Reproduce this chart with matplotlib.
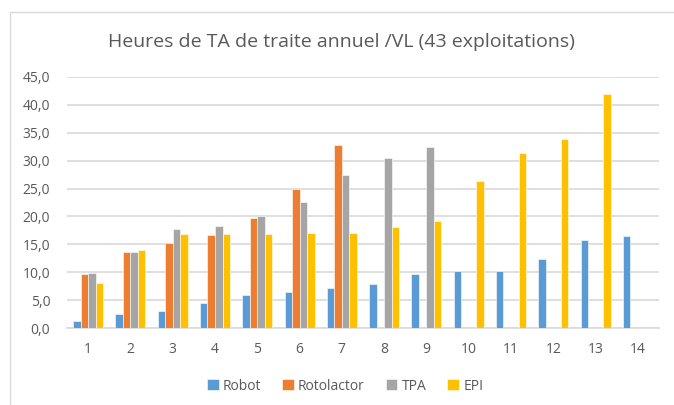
import numpy as np
import matplotlib
matplotlib.use("Agg")
import matplotlib.pyplot as plt
from matplotlib.patches import Rectangle

categories = [str(i) for i in range(1, 15)]
nan = np.nan
robot = [1.2, 2.5, 3.0, 4.4, 6.0, 6.5, 7.2, 7.8, 9.6, 10.3, 10.3, 12.3, 15.7, 16.5]
rotolactor = [9.7, 13.7, 15.2, 16.7, 19.7, 25.0, 32.8, nan, nan, nan, nan, nan, nan, nan]
tpa = [9.8, 13.7, 17.7, 18.2, 20.1, 22.6, 27.4, 30.4, 32.5, nan, nan, nan, nan, nan]
epi = [8.1, 14.0, 16.8, 16.8, 16.8, 17.0, 17.1, 18.1, 19.2, 26.4, 31.3, 33.9, 41.9, nan]
series = [("Robot", robot, "#5B9BD5"), ("Rotolactor", rotolactor, "#ED7D31"),
          ("TPA", tpa, "#A5A5A5"), ("EPI", epi, "#FFC000")]
yticks = np.arange(0, 46, 5)
title = "Heures de TA de traite annuel /VL (43 exploitations)"

plt.rcParams['font.family'] = ['Open Sans', 'DejaVu Sans']
txt = "#595959"

W, H = 674, 405
fig = plt.figure(figsize=(W / 100, H / 100), dpi=100)
# chart border (left and top visible)
fig.patches.append(Rectangle((10 / W, -0.1), 1.2, (H - 12) / H + 0.1, transform=fig.transFigure,
                             fill=False, edgecolor="#D9D9D9", linewidth=1.0))

ax = fig.add_axes([67 / W, 1 - 328 / H, (659 - 67) / W, (328 - 77) / H])
x = np.arange(len(categories))
bw = 0.178
for i, (name, vals, col) in enumerate(series):
    ax.bar(x + (i - 1.5) * bw, vals, width=bw, color=col, edgecolor="white",
           linewidth=0.4, label=name, zorder=3)

ax.set_xlim(-0.5, len(categories) - 0.5)
ax.set_ylim(0, 45)
ax.set_yticks(yticks)
ax.set_yticklabels([f"{v:.1f}".replace(".", ",") for v in yticks], color=txt, fontsize=10)
ax.set_xticks(x)
ax.set_xticklabels(categories, color=txt, fontsize=10)
ax.tick_params(axis="both", length=0)
ax.tick_params(axis="y", pad=12)
ax.tick_params(axis="x", pad=10)
ax.grid(axis="y", color="#D9D9D9", linewidth=1.2, zorder=0)
for s in ["left", "right", "top"]:
    ax.spines[s].set_visible(False)
ax.spines["bottom"].set_color("#D9D9D9")
ax.spines["bottom"].set_linewidth(1.2)

fig.text(341 / W, 1 - 42 / H, title, ha="center", va="center", fontsize=14, color=txt)

leg = fig.legend(loc="center", bbox_to_anchor=(345 / W, 1 - 386 / H), ncol=4, frameon=False,
                 fontsize=10, handlelength=0.85, handleheight=0.85, handletextpad=0.3,
                 columnspacing=1.5)
for t in leg.get_texts():
    t.set_color(txt)

fig.savefig("out.png", dpi=100, facecolor="white")
